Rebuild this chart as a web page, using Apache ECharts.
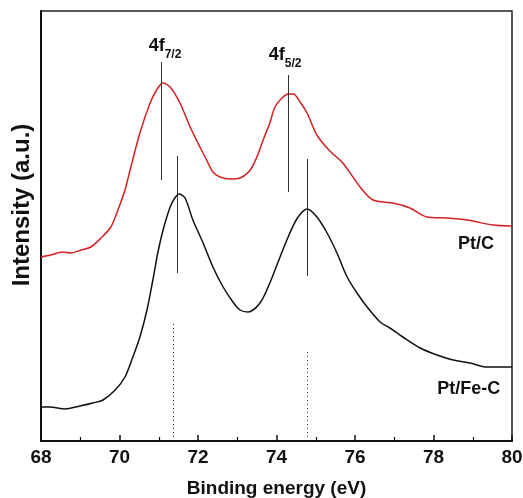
<!DOCTYPE html>
<html>
<head>
<meta charset="utf-8">
<script src="https://cdn.jsdelivr.net/npm/echarts@6/dist/echarts.min.js"></script>
<style>
  html, body { margin: 0; padding: 0; background: #fff; }
  #main { width: 523px; height: 498px; }
</style>
</head>
<body>
<div id="main"></div>
<script>
// Pt/C spectrum (red, offset upward)
var ptcEnergy = [68.00, 68.25, 68.56, 68.76, 69.02, 69.27, 69.53, 69.78, 69.96, 70.14, 70.27, 70.52, 70.78, 70.96, 71.11, 71.29, 71.54, 71.80, 72.05, 72.22, 72.38, 72.56, 72.82, 73.07, 73.33, 73.50, 73.66, 73.83, 73.96, 74.14, 74.30, 74.43, 74.60, 74.78, 74.93, 75.06, 75.36, 75.69, 76.13, 76.46, 76.97, 77.40, 77.83, 78.34, 78.85, 79.52, 80.00];
var ptcIntensity = [184, 186, 189, 188, 191, 194, 203, 214, 231, 251, 271, 308, 338, 352, 358, 354, 338, 314, 294, 281, 269, 264, 262, 263, 271, 284, 301, 318, 334, 343, 347, 347, 339, 328, 314, 304, 290, 278, 254, 241, 238, 233, 224, 223, 221, 216, 215];

// Pt/Fe-C spectrum (black)
var ptfeEnergy = [68.00, 68.23, 68.61, 68.99, 69.32, 69.58, 69.89, 70.14, 70.34, 70.52, 70.70, 70.85, 70.98, 71.11, 71.29, 71.41, 71.52, 71.67, 71.87, 72.13, 72.38, 72.64, 72.89, 73.07, 73.27, 73.58, 73.83, 74.09, 74.34, 74.55, 74.78, 75.03, 75.29, 75.54, 75.80, 76.05, 76.31, 76.64, 76.89, 77.22, 77.66, 78.09, 78.50, 78.93, 79.36, 80.00];
var ptfeIntensity = [34, 34, 32, 35, 38, 41, 51, 64, 84, 104, 131, 161, 189, 211, 234, 243, 247, 243, 221, 198, 174, 154, 139, 131, 129, 138, 158, 184, 208, 224, 232, 224, 208, 188, 164, 148, 134, 119, 113, 104, 93, 86, 81, 78, 74, 74];

var xTicks = [68, 70, 72, 74, 76, 78, 80];

// peak marker lines: [energy, from, to]
var ptcPeaks = [[71.07, 261, 379], [74.30, 249, 366]];
var ptfePeaks = [[71.47, 168, 285], [74.79, 165, 282]];
var ptfeDotted = [[71.38, 4, 119], [74.78, 4, 91]];

// text labels: [energy, intensity, text]
var peakLabels = [[71.16, 392, '{a|4f}{b|7/2}'], [74.22, 383, '{a|4f}{b|5/2}']];
var sampleLabels = [[79.08, 197, 'Pt/C'], [78.90, 52, 'Pt/Fe-C']];

function pairs(xs, ys) {
  return xs.map(function (x, i) { return [x, ys[i]]; });
}
function segs(list) {
  return list.map(function (p) {
    return [{ coord: [p[0], p[1]] }, { coord: [p[0], p[2]] }];
  });
}

var font = '"Liberation Sans", Arial, sans-serif';
var chart = echarts.init(document.getElementById('main'));
chart.setOption({
  animation: false,
  backgroundColor: '#fff',
  grid: {
    left: 41, right: 11, top: 11, bottom: 57,
    outerBoundsMode: 'none',
    show: true, borderColor: '#222', borderWidth: 1.5
  },
  xAxis: {
    type: 'value', min: 68, max: 80, interval: 2,
    name: 'Binding energy (eV)', nameLocation: 'middle', nameGap: 38,
    nameTextStyle: { fontFamily: font, fontSize: 19, fontWeight: 'bold', color: '#111' },
    axisLine: { lineStyle: { color: '#111', width: 2 } },
    axisTick: { inside: true, length: 6, lineStyle: { color: '#111', width: 1.5 } },
    minorTick: { show: true, splitNumber: 2, length: 4, lineStyle: { color: '#111', width: 1.2 } },
    axisLabel: {
      fontFamily: font, fontSize: 19, fontWeight: 'bold', color: '#111', margin: 7,
      formatter: function (v) { return xTicks.indexOf(v) >= 0 ? String(v) : ''; }
    },
    splitLine: { show: false }
  },
  yAxis: {
    type: 'value', min: 0, max: 430,
    axisLine: { show: true, lineStyle: { color: '#111', width: 2 } },
    axisTick: { show: false },
    axisLabel: { show: false },
    splitLine: { show: false }
  },
  graphic: [{
    type: 'text',
    x: 22, y: 205,
    rotation: Math.PI / 2,
    style: {
      text: 'Intensity (a.u.)',
      font: 'bold 24px ' + font,
      fill: '#111',
      align: 'center',
      verticalAlign: 'middle'
    }
  }],
  series: [
    {
      name: 'Pt/C', type: 'line', data: pairs(ptcEnergy, ptcIntensity),
      showSymbol: false, smooth: 0.3,
      lineStyle: { color: '#d42121', width: 1.5 },
      markLine: {
        silent: true, symbol: 'none', label: { show: false },
        lineStyle: { color: '#333', width: 1, type: 'solid' },
        data: segs(ptcPeaks)
      }
    },
    {
      name: 'Pt/Fe-C', type: 'line', data: pairs(ptfeEnergy, ptfeIntensity),
      showSymbol: false, smooth: 0.3,
      lineStyle: { color: '#111', width: 1.5 },
      markLine: {
        silent: true, symbol: 'none', label: { show: false },
        lineStyle: { color: '#333', width: 1, type: 'solid' },
        data: segs(ptfePeaks)
      }
    },
    {
      name: 'dotted', type: 'line', data: [],
      markLine: {
        silent: true, symbol: 'none', label: { show: false },
        lineStyle: { color: '#333', width: 1, type: [1, 3] },
        data: segs(ptfeDotted)
      }
    },
    {
      name: 'peakLabels', type: 'scatter', symbolSize: 0, silent: true,
      itemStyle: { opacity: 1 },
      data: peakLabels,
      label: {
        show: true, position: 'inside', align: 'center', verticalAlign: 'middle',
        formatter: function (p) { return p.data[2]; },
        rich: {
          a: { fontFamily: font, fontSize: 18, fontWeight: 'bold', color: '#111', lineHeight: 24, verticalAlign: 'top' },
          b: { fontFamily: font, fontSize: 12, fontWeight: 'bold', color: '#111', lineHeight: 24, verticalAlign: 'bottom' }
        }
      }
    },
    {
      name: 'sampleLabels', type: 'scatter', symbolSize: 0, silent: true,
      itemStyle: { opacity: 1 },
      data: sampleLabels,
      label: {
        show: true, position: 'inside', align: 'center', verticalAlign: 'middle',
        fontFamily: font, fontSize: 18, fontWeight: 'bold', color: '#111',
        formatter: function (p) { return p.data[2]; }
      }
    }
  ]
});
</script>
</body>
</html>
